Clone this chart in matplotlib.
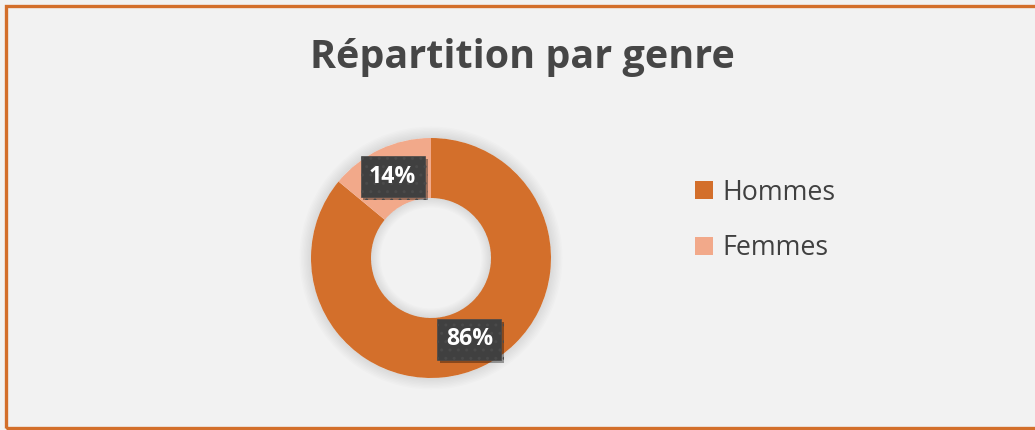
import matplotlib
matplotlib.use("Agg")
import matplotlib.pyplot as plt
import matplotlib.patheffects as pe
from matplotlib.patches import Rectangle, Wedge

categories = ["Hommes", "Femmes"]
values = [86, 14]
colors = ["#D36F2B", "#F2A98A"]
title = "Répartition par genre"

plt.rcParams['font.family'] = ['Open Sans', 'DejaVu Sans']

W, H = 1035, 430
fig = plt.figure(figsize=(W / 100, H / 100), dpi=100, facecolor="#F2F2F2")
renderer = fig.canvas.get_renderer()


def fit_width(txt, target_px):
    w = txt.get_window_extent(renderer).width
    txt.set_fontsize(txt.get_fontsize() * target_px / w)


# border (left, top, bottom)
fig.add_artist(Rectangle((5.5 / W, 1 - 428 / H), (W + 20) / W, (428 - 6) / H,
                         transform=fig.transFigure, fill=False,
                         edgecolor="#D36F2B", linewidth=2.4, clip_on=False))

t = fig.text(522 / W, 1 - 68 / H, title, ha="center", va="baseline",
             fontsize=24, fontweight="bold", color="#464646")
fit_width(t, 425)

cx, cy, r = 431, 258, 120
ax = fig.add_axes([(cx - r) / W, 1 - (cy + r) / H, 2 * r / W, 2 * r / H])
ax.set_facecolor("none")
ax.axis("off")

# soft glow around donut (outside and inside the ring)
for i in range(8):
    ax.add_patch(Wedge((0, 0), 1.0 + 0.012 * (i + 1), 0, 360,
                       width=0.012 * (i + 1), facecolor="#000000", alpha=0.012,
                       zorder=0, linewidth=0, clip_on=False))
    ax.add_patch(Wedge((0, 0), 0.5, 0, 360, width=0.01 * (i + 1),
                       facecolor="#000000", alpha=0.01, zorder=3,
                       linewidth=0, clip_on=False))

wedges, texts, autotexts = ax.pie(values, colors=colors, startangle=90,
                                  counterclock=False, radius=1.0,
                                  wedgeprops=dict(width=0.5, linewidth=0),
                                  autopct=lambda p: f"{p:.0f}%", pctdistance=0.75)
ax.set_xlim(-1, 1)
ax.set_ylim(-1, 1)
ax.set_aspect("equal")
for w in wedges:
    w.set_zorder(2)
for at in autotexts:
    at.set_color("white")
    at.set_fontsize(16)
    at.set_fontweight("bold")
    at.set_zorder(5)
    fit_width(at, 47)
    pad = 8.5 / (at.get_fontsize() * 100 / 72)
    at.set_bbox(dict(boxstyle=f"square,pad={pad:.3f}", facecolor="#404040",
                     edgecolor="#4a4a4a", linewidth=0.5, hatch=".."))
    at.get_bbox_patch().set_path_effects([
        pe.SimplePatchShadow(offset=(2, -2), shadow_rgbFace="#000000", alpha=0.35),
        pe.Normal()])

# legend font size fitted so "Hommes" spans ~113 px
probe = fig.text(0, 0, categories[0], fontsize=18)
fit_width(probe, 113)
lfs = probe.get_fontsize()
probe.remove()
lpx = lfs * 100 / 72

leg = fig.legend(wedges, categories, loc="center left",
                 bbox_to_anchor=(695 / W, 1 - 220.5 / H), frameon=False,
                 fontsize=lfs, labelcolor="#404040", handlelength=18 / lpx,
                 handleheight=18 / lpx, handletextpad=9 / lpx,
                 labelspacing=(60 - 1.2 * lpx) / lpx,
                 borderpad=0, borderaxespad=0)

fig.savefig("out.png", dpi=100, facecolor=fig.get_facecolor())
